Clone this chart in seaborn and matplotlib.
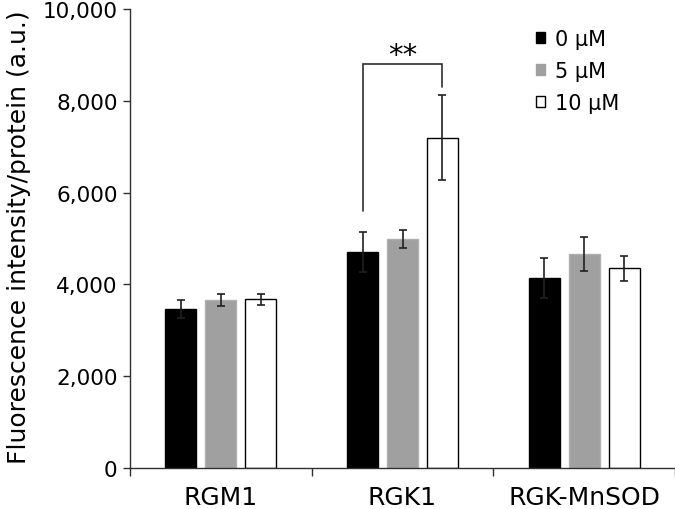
import numpy as np
import pandas as pd
import matplotlib
matplotlib.use('Agg')
import matplotlib.pyplot as plt
import seaborn as sns
from matplotlib.patches import Patch
from matplotlib.ticker import FuncFormatter, FixedLocator

# Data
CELLS = ['RGM1', 'RGK1', 'RGK-MnSOD']
DOSES = ['0 μM', '5 μM', '10 μM']
MEAN_0 = [3460, 4710, 4140]
MEAN_5 = [3650, 4990, 4660]
MEAN_10 = [3680, 7200, 4350]
ERR_0 = [200, 440, 435]
ERR_5 = [130, 190, 370]
ERR_10 = [120, 930, 270]

FACE = ['black', '#a0a0a0', 'white']
EDGE = ['black', '#b0b0b0', 'black']

sns.set_style('ticks')
plt.rcParams['font.family'] = ['DejaVu Sans']
plt.rcParams['text.color'] = 'black'
plt.rcParams['xtick.color'] = 'black'
plt.rcParams['ytick.color'] = 'black'
plt.rcParams['axes.labelcolor'] = 'black'


def build_frame():
    rows = []
    for dose, means, errs in zip(DOSES, [MEAN_0, MEAN_5, MEAN_10], [ERR_0, ERR_5, ERR_10]):
        for cell, m, e in zip(CELLS, means, errs):
            rows.append({'cell': cell, 'dose': dose, 'value': m, 'err': e})
    return pd.DataFrame(rows)


def main():
    df = build_frame()

    fig = plt.figure(figsize=(6.75, 5.1), dpi=100)
    ax = fig.add_axes([130 / 675, 41 / 510, 545 / 675, 459 / 510])

    sns.barplot(data=df, x='cell', y='value', hue='dose', order=CELLS, hue_order=DOSES,
                palette=FACE, errorbar=None, width=0.66, gap=0.22, ax=ax, legend=False,
                saturation=1)

    # style bars and add error bars per series
    bar_containers = list(ax.containers)
    centers = {}
    for i, cont in enumerate(bar_containers):
        sub = df[df['dose'] == DOSES[i]].set_index('cell').loc[CELLS]
        xs = []
        for bar in cont:
            bar.set_facecolor(FACE[i])
            bar.set_edgecolor(EDGE[i])
            bar.set_linewidth(1.0)
            xs.append(bar.get_x() + bar.get_width() / 2)
        xs = np.array(xs)
        centers[DOSES[i]] = xs
        ax.errorbar(xs, sub['value'], yerr=sub['err'], fmt='none', ecolor='#202020',
                    elinewidth=1.2, capsize=3.2, capthick=1.2, zorder=5)

    # significance bracket RGK1: 0 vs 10 uM
    x0 = centers['0 μM'][1]
    x1 = centers['10 μM'][1]
    ax.plot([x0, x0, x1, x1], [5600, 8800, 8800, 8300], color='#303030', lw=1.2,
            solid_joinstyle='miter')
    ax.text((x0 + x1) / 2, 8700, '**', ha='center', va='bottom', fontsize=21)

    ax.set_ylim(0, 10000)
    ax.set_xlim(-0.5, 2.5)
    ax.set_yticks(np.arange(0, 10001, 2000))
    ax.yaxis.set_major_formatter(FuncFormatter(lambda v, p: f'{int(v):,}'))
    ax.set_ylabel('Fluorescence intensity/protein (a.u.)', fontsize=18)
    ax.yaxis.set_label_coords(-0.181, 0.505)
    ax.set_xlabel('')
    ax.tick_params(axis='y', labelsize=15.5, length=5, width=1, color='#303030', pad=4)
    ax.tick_params(axis='x', which='major', length=0, labelsize=18, pad=12)
    ax.xaxis.set_minor_locator(FixedLocator([-0.5, 0.5, 1.5, 2.5]))
    ax.tick_params(axis='x', which='minor', length=6, width=1, color='#303030')

    sns.despine(ax=ax)
    for s in ['left', 'bottom']:
        ax.spines[s].set_color('#303030')
        ax.spines[s].set_linewidth(1.0)

    handles = [Patch(facecolor=FACE[i], edgecolor=EDGE[i] if i != 1 else FACE[i], lw=1,
                     label=DOSES[i]) for i in range(3)]
    ax.legend(handles=handles, loc='upper left', bbox_to_anchor=(0.73, 0.975),
              frameon=False, fontsize=15, handlelength=0.4, handleheight=0.4,
              handletextpad=0.5, labelspacing=0.58, borderaxespad=0)

    fig.savefig('out.png', dpi=100)
    plt.close(fig)


if __name__ == '__main__':
    main()
